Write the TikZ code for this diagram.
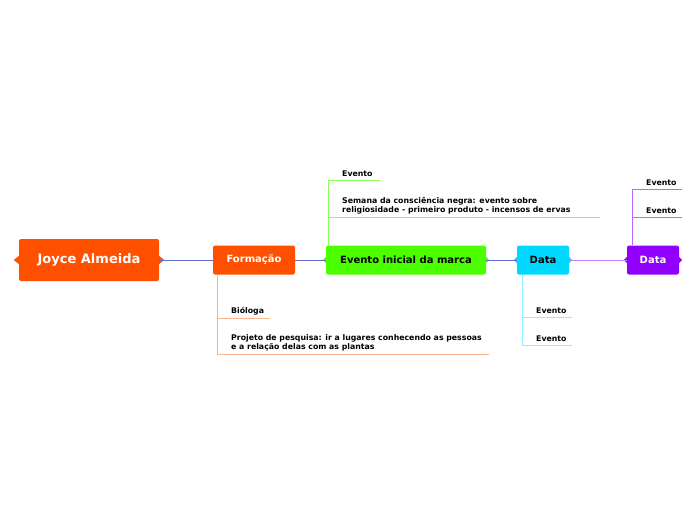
\documentclass[tikz,border=0pt]{standalone}
\usepackage{fontspec}
\setmainfont{DejaVu Sans}
\usetikzlibrary{positioning}
\definecolor{mmorange}{HTML}{FF5000}
\definecolor{mmgreen}{HTML}{4CFF00}
\definecolor{mmcyan}{HTML}{00D9FF}
\definecolor{mmpurple}{HTML}{9100FF}
\definecolor{mmlink}{HTML}{6470CC}
\definecolor{mmlinkp}{HTML}{C080F0}

\begin{document}
\begin{tikzpicture}[x=1pt,y=-1pt]
  \tikzstyle{topic}=[rounded corners=2pt,minimum height=29pt,inner sep=0pt,font=\bfseries\fontsize{10}{12}\selectfont]
  \tikzstyle{sub}=[anchor=south west,align=left,inner sep=0pt,font=\bfseries\fontsize{7.8}{9}\selectfont]
  \tikzstyle{link}=[mmlink,line width=1pt]
  \useasboundingbox (0,0) rectangle (696,520);
  % main topics
  \node[topic,fill=mmorange,text=white,minimum width=140pt,minimum height=42pt,font=\bfseries\fontsize{13}{15}\selectfont] (joyce) at (89,260) {Joyce Almeida};
  \node[topic,fill=mmorange,text=white,minimum width=82pt] (form) at (254,260) {Formação};
  \node[topic,fill=mmgreen,minimum width=160pt] (marca) at (406,260) {Evento inicial da marca};
  \node[topic,fill=mmcyan,minimum width=52pt] (data1) at (543,260) {Data};
  \node[topic,fill=mmpurple,text=white,minimum width=52pt] (data2) at (653,260) {Data};
  \fill[mmorange] (joyce.west)++(0,-4) -- ++(-5,4) -- ++(5,4) -- cycle;
  \fill[mmorange] (joyce.east)++(0,-4) -- ++(5,4) -- ++(-5,4) -- cycle;
  \foreach \n/\c in {marca/mmgreen,data1/mmcyan,data2/mmpurple} {
    \fill[\c] (\n.west)++(0,-3) -- ++(-3,3) -- ++(3,3) -- cycle;
    \fill[\c] (\n.east)++(0,-3) -- ++(3,3) -- ++(-3,3) -- cycle;
  }
  \draw[link] (joyce) -- (form);
  \draw[link] (form) -- (marca);
  \draw[link] (marca) -- (data1);
  \draw[mmlinkp,line width=1pt] (data1) -- (data2);

  % Formação
  \node[sub] (bio) at (231,315) {Bióloga};
  \node[sub] (proj) at (231,351) {Projeto de pesquisa: ir a lugares conhecendo as pessoas\\e a relação delas com as plantas};
  \coordinate (fb) at (217,318);
  \coordinate (fp) at (217,354);
  \draw[mmorange!45,line width=1pt] (form.south -| fp) -- (fp) -- (489,354);
  \draw[mmorange!45,line width=1pt] (fb) -- (270,318);

  % Evento inicial da marca
  \node[sub] (ev1) at (342,177) {Evento};
  \node[sub] (sem) at (342,214) {Semana da consciência negra: evento sobre\\religiosidade - primeiro produto - incensos de ervas};
  \coordinate (ge) at (328,180);
  \coordinate (gs) at (328,217);
  \draw[mmgreen!65,line width=1pt] (marca.north -| ge) -- (ge) -- (380,180);
  \draw[mmgreen!65,line width=1pt] (gs) -- (600,217);

  % Data (ciano)
  \node[sub] (ev2) at (536,314) {Evento};
  \node[sub] (ev3) at (536,342) {Evento};
  \coordinate (ca) at (522,317);
  \coordinate (cb) at (522,345);
  \draw[mmcyan!45,line width=1pt] (data1.south -| cb) -- (cb) -- (572,345);
  \draw[mmcyan!45,line width=1pt] (ca) -- (572,317);

  % Data (roxo)
  \node[sub] (ev4) at (646,186) {Evento};
  \node[sub] (ev5) at (646,214) {Evento};
  \coordinate (pa) at (632,189);
  \coordinate (pb) at (632,217);
  \draw[mmpurple!60,line width=1pt] (data2.north -| pa) -- (pa) -- (682,189);
  \draw[mmpurple!60,line width=1pt] (pb) -- (682,217);
\end{tikzpicture}
\end{document}
